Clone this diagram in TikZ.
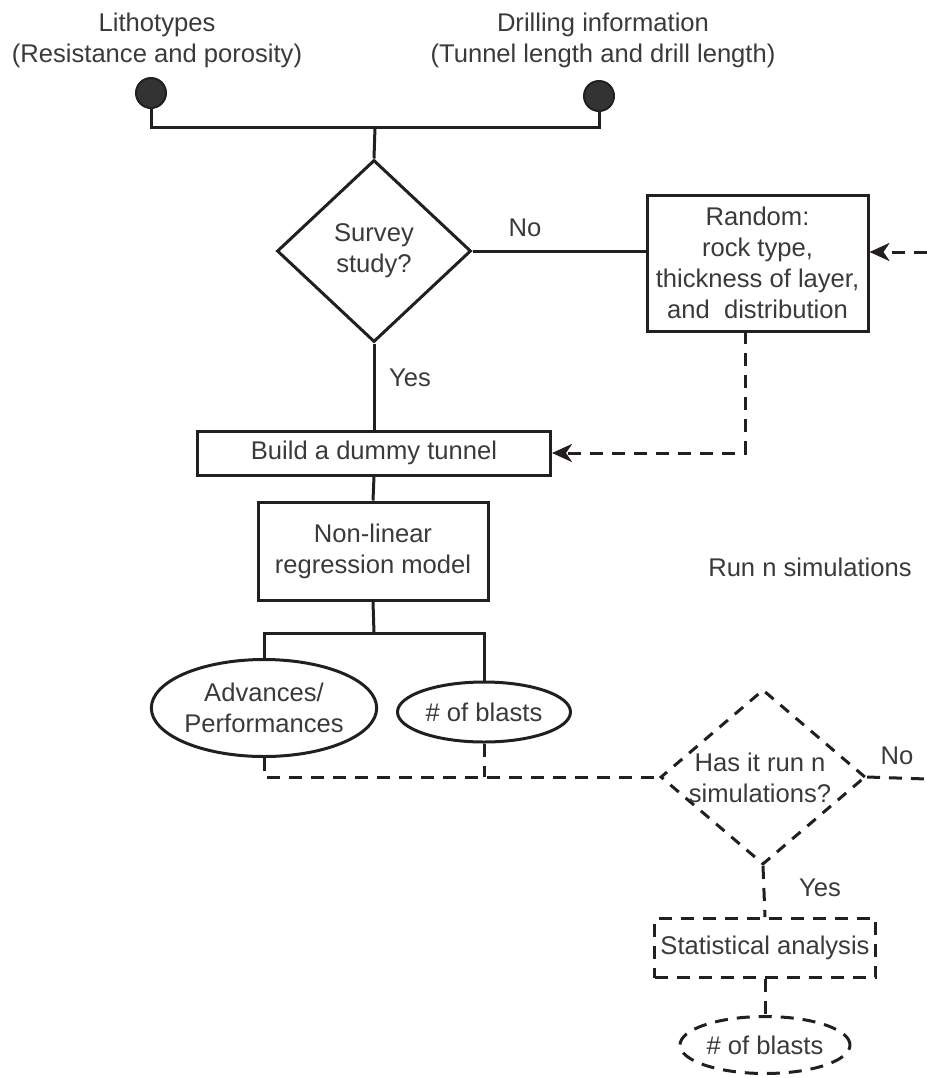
\documentclass[tikz,border=0pt]{standalone}
\usepackage{fontspec}
\setmainfont{Liberation Sans}
\usetikzlibrary{shapes.geometric,arrows.meta,calc}
\definecolor{linec}{HTML}{231F20}
\definecolor{textc}{HTML}{3A3A3A}
\begin{document}
\begin{tikzpicture}[x=0.5pt,y=-0.5pt,
  every node/.style={text=textc, font=\fontsize{12.8}{15.5}\selectfont, align=center, inner sep=0pt},
  ln/.style={draw=linec, line width=1.5pt},
  dsh/.style={draw=linec, line width=1.5pt, dash pattern=on 6.5pt off 4.5pt},
  boxs/.style={rectangle, draw=linec, line width=1.5pt},
  dboxs/.style={rectangle, draw=linec, line width=1.5pt, dash pattern=on 6.5pt off 4.5pt},
  ells/.style={ellipse, draw=linec, line width=1.5pt},
  dells/.style={ellipse, draw=linec, line width=1.5pt, dash pattern=on 6.5pt off 4.5pt},
  dms/.style={diamond, draw=linec, line width=1.5pt},
  ddms/.style={diamond, draw=linec, line width=1.5pt, dash pattern=on 5.5pt off 4.5pt},
  dot/.style={circle, draw=linec, fill=black!80, line width=1pt, minimum size=15pt},
  arr/.style={-{Stealth[length=10pt,width=9pt,inset=3pt]}},
  lbl/.style={}
]
\useasboundingbox (0,0) rectangle (927,1078);

% inputs
\node[lbl] (lith) at (157,40) {Lithotypes\\(Resistance and porosity)};
\node[lbl] (drill) at (603,40) {Drilling information\\(Tunnel length and drill length)};
\node[dot] (dotL) at (151,93) {};
\node[dot] (dotR) at (599,96) {};
\coordinate (j1) at (375,127);

% survey
\node[dms, minimum width=97pt, minimum height=91pt] (d1) at (374,251) {};
\node[lbl] (d1t) at (d1) {Survey\\study?};
\node[lbl] (no1) at (525,228) {No};
\node[lbl] (yes1) at (410,378) {Yes};

% random
\node[boxs, minimum width=110.5pt, minimum height=68pt] (rand) at (757.5,263) {Random:\\rock type,\\thickness of layer,\\and\ \ distribution};
\coordinate (rin) at (927,252);
\coordinate (rbot) at (745,331);

% build and model
\node[boxs, minimum width=176.5pt, minimum height=22pt] (build) at (374,453) {Build a dummy tunnel};
\node[boxs, minimum width=115pt, minimum height=49pt] (nl) at (373,551) {Non-linear\\regression model};
\node[lbl] (runn) at (810,567) {Run n simulations};
\coordinate (j2) at (374,633);

% outputs
\node[ells, minimum width=103.5pt, minimum height=48.5pt] (adv) at (264,708) {Advances/\\Performances};
\node[ells, minimum width=86.5pt, minimum height=30pt] (bl1) at (484,712) {\# of blasts};

% loop check
\node[ddms, minimum width=102.5pt, minimum height=87.5pt] (d2) at (763,777) {};
\node[lbl] (d2t) at (760,778) {Has it run n\\simulations?};
\node[lbl] (no2) at (897,756) {No};
\node[lbl] (yes2) at (820,888) {Yes};
\coordinate (dout) at (927,779);

% statistics
\node[dboxs, minimum width=110.5pt, minimum height=29.5pt] (stat) at (765,948) {Statistical analysis};
\node[dells, minimum width=85pt, minimum height=28.5pt] (bl2) at (765,1045) {\# of blasts};

% connectors
\draw[ln] (dotL.south) |- (j1) -| (dotR.south);
\draw[ln] (j1) -- (d1.north);
\draw[ln] (d1.east) -- (d1.east -| rand.west);
\draw[dsh, arr] (rin) -- (rin -| rand.east);
\draw[dsh, arr] (rbot) |- (build.east);
\draw[ln] (d1.south) -- (build.north);
\draw[ln] (build.south) -- (nl.north);
\draw[ln] (nl.south) -- (j2);
\draw[ln] (adv.north) |- (j2) -| (bl1.north);
\draw[dsh] (adv.south) |- (d2.west);
\draw[dsh] (bl1.south) -- (bl1.south |- d2.west);
\draw[dsh] (d2.east) -- (dout);
\draw[dsh] (d2.south) -- (stat.north);
\draw[dsh] (stat.south) -- (bl2.north);
\end{tikzpicture}
\end{document}
